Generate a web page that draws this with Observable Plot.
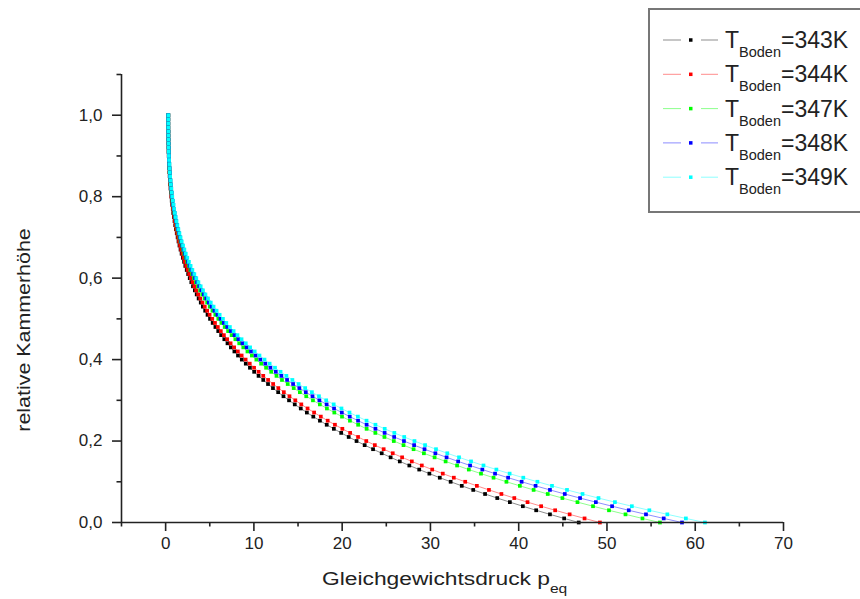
<!DOCTYPE html>
<html>
<head>
<meta charset="utf-8">
<script src="https://cdn.jsdelivr.net/npm/d3@7"></script>
<script src="https://cdn.jsdelivr.net/npm/@observablehq/plot@0.6"></script>
<style>
  html, body { margin: 0; padding: 0; background: #fff; }
  #chart svg { display: block; }
</style>
</head>
<body>
<div id="chart"></div>
<script>
// Relative chamber height levels (sampled in steps of 0.01)
const heights = [
  0.00,0.01,0.02,0.03,0.04,0.05,0.06,0.07,0.08,0.09,
  0.10,0.11,0.12,0.13,0.14,0.15,0.16,0.17,0.18,0.19,
  0.20,0.21,0.22,0.23,0.24,0.25,0.26,0.27,0.28,0.29,
  0.30,0.31,0.32,0.33,0.34,0.35,0.36,0.37,0.38,0.39,
  0.40,0.41,0.42,0.43,0.44,0.45,0.46,0.47,0.48,0.49,
  0.50,0.51,0.52,0.53,0.54,0.55,0.56,0.57,0.58,0.59,
  0.60,0.61,0.62,0.63,0.64,0.65,0.66,0.67,0.68,0.69,
  0.70,0.71,0.72,0.73,0.74,0.75,0.76,0.77,0.78,0.79,
  0.80,0.81,0.82,0.83,0.84,0.85,0.86,0.87,0.88,0.89,
  0.90,0.91,0.92,0.93,0.94,0.95,0.96,0.97,0.98,0.99,
  1.00
];

// Equilibrium pressure at each height, one array per floor temperature
const p343 = [
  46.80,45.15,43.54,41.98,40.47,39.00,37.57,36.19,34.85,33.55,
  32.29,31.06,29.88,28.73,27.61,26.53,25.49,24.48,23.50,22.55,
  21.63,20.74,19.89,19.06,18.25,17.48,16.73,16.00,15.31,14.63,
  13.98,13.35,12.75,12.16,11.60,11.06,10.53,10.03,9.55,9.08,
  8.63,8.20,7.79,7.39,7.01,6.65,6.29,5.96,5.64,5.33,
  5.03,4.75,4.48,4.22,3.98,3.74,3.52,3.31,3.10,2.91,
  2.73,2.55,2.39,2.23,2.09,1.95,1.81,1.69,1.57,1.46,
  1.36,1.26,1.17,1.09,1.01,0.94,0.87,0.81,0.75,0.69,
  0.65,0.60,0.56,0.52,0.49,0.46,0.43,0.41,0.39,0.37,
  0.35,0.34,0.33,0.32,0.31,0.31,0.31,0.30,0.30,0.30,
  0.30
];
const p344 = [
  49.20,47.46,45.77,44.13,42.54,41.00,39.50,38.04,36.63,35.26,
  33.94,32.65,31.40,30.20,29.02,27.89,26.79,25.73,24.70,23.70,
  22.73,21.80,20.90,20.02,19.18,18.36,17.58,16.82,16.08,15.37,
  14.69,14.03,13.39,12.77,12.18,11.61,11.06,10.53,10.02,9.53,
  9.06,8.61,8.18,7.76,7.36,6.97,6.60,6.25,5.91,5.59,
  5.28,4.98,4.70,4.43,4.17,3.92,3.68,3.46,3.25,3.05,
  2.85,2.67,2.50,2.33,2.18,2.03,1.89,1.76,1.64,1.52,
  1.42,1.31,1.22,1.13,1.05,0.97,0.90,0.83,0.77,0.72,
  0.66,0.62,0.57,0.53,0.50,0.47,0.44,0.41,0.39,0.37,
  0.36,0.34,0.33,0.32,0.32,0.31,0.31,0.30,0.30,0.30,
  0.30
];
const p347 = [
  56.00,54.02,52.10,50.23,48.42,46.66,44.95,43.29,41.69,40.13,
  38.61,37.15,35.73,34.35,33.02,31.72,30.47,29.26,28.09,26.95,
  25.85,24.79,23.76,22.77,21.81,20.88,19.98,19.11,18.27,17.47,
  16.69,15.93,15.21,14.51,13.83,13.18,12.56,11.96,11.38,10.82,
  10.28,9.77,9.27,8.80,8.34,7.90,7.48,7.08,6.69,6.32,
  5.97,5.63,5.31,5.00,4.70,4.42,4.15,3.90,3.66,3.43,
  3.21,3.00,2.80,2.62,2.44,2.27,2.11,1.97,1.83,1.69,
  1.57,1.46,1.35,1.25,1.15,1.06,0.98,0.91,0.84,0.77,
  0.71,0.66,0.61,0.57,0.53,0.49,0.46,0.43,0.41,0.38,
  0.37,0.35,0.34,0.33,0.32,0.31,0.31,0.30,0.30,0.30,
  0.30
];
const p348 = [
  58.50,56.43,54.42,52.47,50.58,48.74,46.95,45.22,43.54,41.91,
  40.33,38.80,37.32,35.88,34.49,33.14,31.83,30.56,29.33,28.15,
  27.00,25.89,24.81,23.77,22.77,21.80,20.86,19.96,19.08,18.24,
  17.42,16.64,15.88,15.15,14.44,13.76,13.11,12.48,11.87,11.29,
  10.73,10.19,9.67,9.18,8.70,8.24,7.80,7.38,6.98,6.59,
  6.22,5.87,5.53,5.21,4.90,4.61,4.33,4.06,3.81,3.57,
  3.34,3.12,2.92,2.72,2.54,2.36,2.20,2.04,1.89,1.76,
  1.63,1.51,1.39,1.29,1.19,1.10,1.01,0.93,0.86,0.79,
  0.73,0.68,0.63,0.58,0.54,0.50,0.47,0.44,0.41,0.39,
  0.37,0.35,0.34,0.33,0.32,0.31,0.31,0.30,0.30,0.30,
  0.30
];
const p349 = [
  61.10,58.94,56.84,54.80,52.82,50.90,49.04,47.23,45.47,43.77,
  42.12,40.52,38.97,37.47,36.01,34.60,33.24,31.91,30.63,29.39,
  28.19,27.03,25.91,24.82,23.77,22.76,21.78,20.83,19.92,19.04,
  18.19,17.37,16.57,15.81,15.07,14.36,13.68,13.02,12.39,11.78,
  11.20,10.63,10.09,9.57,9.08,8.60,8.14,7.70,7.28,6.87,
  6.49,6.12,5.77,5.43,5.11,4.80,4.51,4.23,3.97,3.71,
  3.47,3.25,3.03,2.83,2.64,2.45,2.28,2.12,1.97,1.82,
  1.69,1.56,1.44,1.33,1.23,1.13,1.04,0.96,0.89,0.82,
  0.75,0.69,0.64,0.59,0.55,0.51,0.47,0.44,0.42,0.39,
  0.37,0.35,0.34,0.33,0.32,0.31,0.31,0.30,0.30,0.30,
  0.30
];

const temperatures = ["343K", "344K", "347K", "348K", "349K"];
const seriesValues = [p343, p344, p347, p348, p349];
const seriesColors = ["#000000", "#ff0000", "#00ff00", "#0000ff", "#00ffff"];

const xMajorTicks = [0, 10, 20, 30, 40, 50, 60, 70];
const xMinorTicks = [-5, 5, 15, 25, 35, 45, 55, 65];
const yMajorTicks = [0.0, 0.2, 0.4, 0.6, 0.8, 1.0];
const yMinorTicks = [0.1, 0.3, 0.5, 0.7, 0.9, 1.1];

// Long-format table: one row per sampled point
const rows = temperatures.flatMap((t, i) =>
  heights.map((h, j) => ({ series: t, p: seriesValues[i][j], h }))
);

const font = "'Liberation Sans', Arial, Helvetica, sans-serif";
const axisColor = "#222";
const commaFormat = d => d.toFixed(1).replace(".", ",");

const chart = Plot.plot({
  width: 860,
  height: 599,
  marginLeft: 121,
  marginRight: 77,
  marginTop: 74,
  marginBottom: 77,
  style: { fontFamily: font, fontSize: "17px", color: axisColor, background: "#fff" },
  x: { domain: [-5, 70], label: null },
  y: { domain: [0, 1.1], label: null },
  color: { domain: temperatures, range: seriesColors },
  marks: [
    Plot.line(rows, { x: "p", y: "h", z: "series", stroke: "series", strokeOpacity: 0.45, strokeWidth: 1 }),
    Plot.dot(rows, { x: "p", y: "h", fill: "series", symbol: "square", r: 2.1 }),
    Plot.ruleY([0], { stroke: axisColor, strokeWidth: 1.6 }),
    Plot.ruleX([-5], { stroke: axisColor, strokeWidth: 1.6 }),
    Plot.axisX(xMajorTicks, { tickSize: 9, tickPadding: 5, tickFormat: d => String(d), strokeWidth: 1.6, fontSize: 17, label: null }),
    Plot.axisX(xMinorTicks, { tickSize: 4.5, tickFormat: () => "", strokeWidth: 1.6, label: null }),
    Plot.axisY(yMajorTicks, { tickSize: 9, tickPadding: 10, tickFormat: commaFormat, strokeWidth: 1.6, fontSize: 17, label: null }),
    Plot.axisY(yMinorTicks, { tickSize: 4.5, tickFormat: () => "", strokeWidth: 1.6, label: null })
  ]
});

document.getElementById("chart").append(chart);

const svg = d3.select(chart);

// Axis titles
const xTitle = svg.append("text")
  .attr("transform", "translate(322,585) scale(1.2,1)")
  .attr("text-anchor", "start")
  .attr("font-family", font)
  .attr("fill", axisColor)
  .attr("font-size", 19);
xTitle.append("tspan").text("Gleichgewichtsdruck p");
xTitle.append("tspan").attr("font-size", 13).attr("dy", 8).text("eq");

svg.append("text")
  .attr("transform", "translate(30,330) rotate(-90) scale(1.19,1)")
  .attr("text-anchor", "middle")
  .attr("font-family", font)
  .attr("fill", axisColor)
  .attr("font-size", 18)
  .text("relative Kammerhöhe");

// Legend box in the top-right corner
const legend = svg.append("g");
legend.append("rect")
  .attr("x", 649).attr("y", 9)
  .attr("width", 225).attr("height", 203)
  .attr("fill", "#fff")
  .attr("stroke", "#777")
  .attr("stroke-width", 2);

temperatures.forEach((t, i) => {
  const cy = 40 + 34.3 * i;
  const color = seriesColors[i];
  legend.append("line")
    .attr("x1", 663).attr("x2", 681).attr("y1", cy).attr("y2", cy)
    .attr("stroke", color).attr("stroke-opacity", 0.45);
  legend.append("line")
    .attr("x1", 701).attr("x2", 718).attr("y1", cy).attr("y2", cy)
    .attr("stroke", color).attr("stroke-opacity", 0.45);
  legend.append("rect")
    .attr("x", 689).attr("y", cy - 1.75)
    .attr("width", 3.5).attr("height", 3.5)
    .attr("fill", color);
  const label = legend.append("text")
    .attr("transform", `translate(725,${cy + 8})`)
    .attr("text-anchor", "start")
    .attr("font-family", font)
    .attr("fill", "#222");
  label.append("tspan").attr("font-size", 23).text("T");
  label.append("tspan").attr("font-size", 14.5).attr("dy", 9).text("Boden");
  label.append("tspan").attr("font-size", 23).attr("dy", -9).text("=" + t);
});
</script>
</body>
</html>
